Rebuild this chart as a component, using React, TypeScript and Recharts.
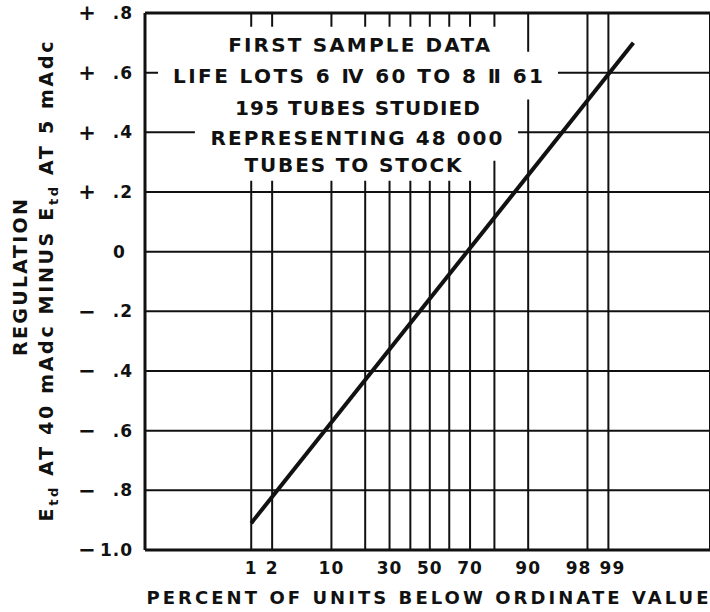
import { CartesianGrid, Label, Line, LineChart, ReferenceArea, ReferenceLine, XAxis, YAxis } from "recharts";

const FONT = "'DejaVu Sans', sans-serif";
const INK = "#111";

// probability-paper grid: percent of units below ordinate value
const GRID_PCT = [1, 2, 10, 20, 30, 40, 50, 60, 70, 80, 90, 98, 99];
const LABELED_PCT = [1, 2, 10, 30, 50, 70, 90, 98, 99];
// the printed 98 / 99 labels sit apart from their lines so they don't collide
const LABEL_NUDGE: Record<number, number> = { 98: -9, 99: 4 };

const Y_TICKS = [-1, -0.8, -0.6, -0.4, -0.2, 0, 0.2, 0.4, 0.6, 0.8];
const Y_SIGNS = ["−", "−", "−", "−", "−", "", "+", "+", "+", "+"];
const Y_NUMS = ["1.0", ".8", ".6", ".4", ".2", "0", ".2", ".4", ".6", ".8"];

// the fitted straight line, read at its two ends
const LINE_PCT = [1, 99.6];
const LINE_VALUE = [-0.91, 0.7];

const NOTE_LINES = [
  "FIRST SAMPLE DATA",
  "LIFE LOTS 6 Ⅳ 60 TO 8 Ⅱ 61",
  "195 TUBES STUDIED",
  "REPRESENTING 48 000",
  "TUBES TO STOCK",
];
const NOTE_WIDTHS = [262, 370, 245, 292, 217];
// white knock-out behind each note line, in axis units (probit z, value)
const NOTE_BOXES = [
  { x1: -2.82, x2: 0.98, y1: 0.63, y2: 0.754 },
  { x1: -3.54, x2: 1.67, y1: 0.51, y2: 0.67 },
  { x1: -2.76, x2: 0.875, y1: 0.432, y2: 0.53 },
  { x1: -3.06, x2: 1.15, y1: 0.305, y2: 0.456 },
  { x1: -2.63, x2: 0.63, y1: 0.238, y2: 0.342 },
];

// paper runs off the right edge of the scan
const X_DOMAIN = [-3.71, 3.65];

// Acklam's approximation of the inverse normal CDF (probability paper scale)
function probit(p: number) {
  const a = [-39.69683028665376, 220.9460984245205, -275.9285104469687, 138.357751867269, -30.66479806614716, 2.506628277459239];
  const b = [-54.47609879822406, 161.5858368580409, -155.6989798598866, 66.80131188771972, -13.28068155288572];
  const c = [-0.007784894002430293, -0.3223964580411365, -2.400758277161838, -2.549732539343734, 4.374664141464968, 2.938163982698783];
  const d = [0.007784695709041462, 0.3224671290700398, 2.445134137142996, 3.754408661907416];
  const tail = (q: number) =>
    (((((c[0] * q + c[1]) * q + c[2]) * q + c[3]) * q + c[4]) * q + c[5]) /
    ((((d[0] * q + d[1]) * q + d[2]) * q + d[3]) * q + 1);
  if (p < 0.02425) return tail(Math.sqrt(-2 * Math.log(p)));
  if (p > 1 - 0.02425) return -tail(Math.sqrt(-2 * Math.log(1 - p)));
  const q = p - 0.5;
  const r = q * q;
  return (
    ((((((a[0] * r + a[1]) * r + a[2]) * r + a[3]) * r + a[4]) * r + a[5]) * q) /
    (((((b[0] * r + b[1]) * r + b[2]) * r + b[3]) * r + b[4]) * r + 1)
  );
}

const xTicks = GRID_PCT.map((p) => probit(p / 100));
const points = LINE_PCT.map((p, i) => ({ z: probit(p / 100), v: LINE_VALUE[i] }));

const textStyle = { fill: INK, fontFamily: FONT, fontWeight: "bold" as const };

function XTick({ x, y, payload }: any) {
  const pct = GRID_PCT.find((p) => Math.abs(probit(p / 100) - payload.value) < 1e-6);
  if (pct === undefined || !LABELED_PCT.includes(pct)) return <g />;
  return (
    <text x={x + (LABEL_NUDGE[pct] ?? 0)} y={y} dy="0.71em" textAnchor="middle" fontSize={17} letterSpacing={1} {...textStyle}>
      {pct}
    </text>
  );
}

function YTick({ x, y, payload }: any) {
  const i = Y_TICKS.findIndex((v) => Math.abs(v - payload.value) < 1e-6);
  if (i < 0) return <g />;
  if (Y_SIGNS[i] === "") {
    return (
      <text x={x - 14} y={y} dy="0.35em" textAnchor="middle" fontSize={17} {...textStyle}>
        {Y_NUMS[i]}
      </text>
    );
  }
  return (
    <g>
      <text x={x - 46} y={y} dy="0.35em" textAnchor="middle" fontSize={21} {...textStyle}>
        {Y_SIGNS[i]}
      </text>
      <text x={x} y={y} dy="0.35em" textAnchor="end" fontSize={17} letterSpacing={1} {...textStyle}>
        {Y_NUMS[i]}
      </text>
    </g>
  );
}

function XTitle({ viewBox }: any) {
  const { x, y, width } = viewBox;
  return (
    <text x={x + width / 2} y={y + 48} dy="0.35em" textAnchor="middle" fontSize={18} textLength={562} lengthAdjust="spacing" {...textStyle}>
      PERCENT OF UNITS BELOW ORDINATE VALUE
    </text>
  );
}

function YTitle({ viewBox }: any) {
  const { x, y, height } = viewBox;
  const cy = y + height / 2;
  return (
    <g>
      <text transform={`translate(${x + 20},${cy - 4}) rotate(-90)`} dy="0.35em" textAnchor="middle" fontSize={19} textLength={157} lengthAdjust="spacing" {...textStyle}>
        REGULATION
      </text>
      <text transform={`translate(${x + 46},${cy}) rotate(-90)`} dy="0.35em" textAnchor="middle" fontSize={19} textLength={480} lengthAdjust="spacing" {...textStyle}>
        E<tspan fontSize={13} dy={5}>td</tspan>
        <tspan dy={-5}> AT 40 mAdc MINUS E</tspan>
        <tspan fontSize={13} dy={5}>td</tspan>
        <tspan dy={-5}> AT 5 mAdc</tspan>
      </text>
    </g>
  );
}

function noteLabel(i: number) {
  return ({ viewBox }: any) => {
    const { x, y, width, height } = viewBox;
    return (
      <text x={x + width / 2} y={y + height / 2} dy="0.35em" textAnchor="middle" fontSize={20} textLength={NOTE_WIDTHS[i]} lengthAdjust="spacing" {...textStyle}>
        {NOTE_LINES[i]}
      </text>
    );
  };
}

export default function App() {
  return (
    <div style={{ position: "absolute", left: 0, top: 0, background: "#fff" }}>
      <LineChart width={710} height={612} data={points} margin={{ top: 13, right: 0, bottom: 0, left: 0 }}>
        <CartesianGrid stroke={INK} strokeWidth={2} />
        <XAxis
          type="number"
          dataKey="z"
          domain={X_DOMAIN}
          ticks={xTicks}
          interval={0}
          allowDataOverflow
          height={62}
          tickLine={false}
          tickSize={0}
          tickMargin={12}
          axisLine={{ stroke: INK, strokeWidth: 3 }}
          tick={<XTick />}
        >
          <Label content={XTitle} />
        </XAxis>
        <YAxis
          type="number"
          domain={[-1, 0.8]}
          ticks={Y_TICKS}
          interval={0}
          width={145}
          tickLine={false}
          tickSize={0}
          tickMargin={12}
          axisLine={{ stroke: INK, strokeWidth: 3 }}
          tick={<YTick />}
        >
          <Label content={YTitle} />
        </YAxis>
        {NOTE_BOXES.map((b, i) => (
          <ReferenceArea
            key={i}
            x1={b.x1}
            x2={b.x2}
            y1={b.y1}
            y2={b.y2}
            fill="#fff"
            fillOpacity={1}
            stroke="none"
            label={noteLabel(i)}
          />
        ))}
        <ReferenceLine y={0.8} stroke={INK} strokeWidth={3} />
        <Line type="linear" dataKey="v" stroke={INK} strokeWidth={4} dot={false} isAnimationActive={false} />
      </LineChart>
    </div>
  );
}
